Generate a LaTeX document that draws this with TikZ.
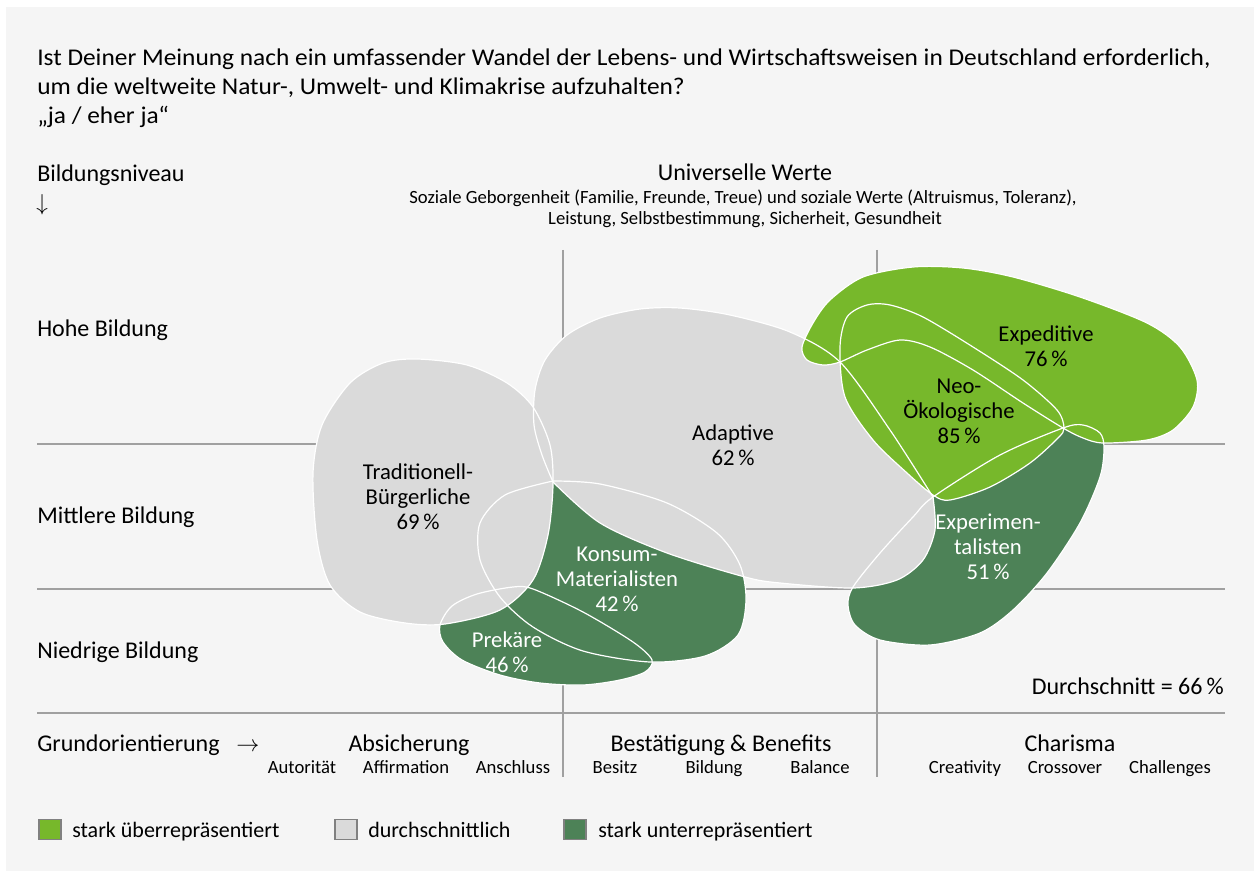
\documentclass[tikz,border=0pt]{standalone}
\usepackage{fontspec}
\setmainfont{Carlito}
\newfontfamily\titlefam{Carlito}[FakeStretch=1.057]
\definecolor{panel}{HTML}{F5F5F5}
\definecolor{lgreen}{HTML}{77B82B}
\definecolor{dgreen}{HTML}{4D8257}
\definecolor{blobgray}{HTML}{DADADA}
\definecolor{gridc}{HTML}{A0A0A0}
\definecolor{legbord}{HTML}{808080}
\newcommand{\blobTrad}{plot[smooth cycle] coordinates{(417,359) (467,365) (507,383) (533,407) (550,445) (553,485) (548,535) (533,580) (500,610) (445,624) (405,623) (360,612) (330,585) (317,540) (313,473) (322,425) (350,383) (383,363)}}
\newcommand{\blobAdap}{plot[smooth] coordinates{(553,482) (542,455) (534,425) (535,390) (545,360) (567,335) (600,318) (640,309) (680,308) (730,315) (790,332) (840,362) (890,430) (933,497)} -- plot[smooth] coordinates{(933,497) (935,530) (923,560) (897,580) (853,588) (780,583) (745,577) (667,553) (600,523) (553,482)} -- cycle}
\newcommand{\blobKons}{plot[smooth] coordinates{(553,481) (600,484) (667,503) (717,533) (740,565) (746,600) (738,635) (705,656) (650,662) (583,651) (533,627) (500,597) (480,560) (480,523) (505,495) (553,481)} -- cycle}
\newcommand{\blobPrek}{plot[smooth cycle] coordinates{(440,625) (452,606) (477,594) (513,587) (533,589) (583,612) (633,642) (652,660) (645,672) (620,680) (583,685) (540,683) (500,675) (462,660) (443,642)}}
\newcommand{\blobExpe}{plot[smooth cycle] coordinates{(933,497) (1000,455) (1063,428) (1083,425) (1100,433) (1104,448) (1100,477) (1080,523) (1047,573) (1013,610) (980,633) (930,645) (880,640) (855,625) (848,605) (853,587) (880,553) (913,517)}}
\newcommand{\blobExpd}{plot[smooth cycle] coordinates{(802,347) (813,323) (830,300) (863,277) (913,267) (963,268) (1013,277) (1080,297) (1147,323) (1180,347) (1197,380) (1193,407) (1173,430) (1147,440) (1103,443) (1083,438) (1063,428) (1023,403) (973,370) (930,347) (900,340) (867,350) (840,362) (823,365) (807,360)}}
\newcommand{\blobNeo}{plot[smooth cycle] coordinates{(867,305) (847,317) (840,347) (845,397) (873,440) (907,473) (933,495) (950,500) (990,487) (1030,463) (1058,438) (1064,428) (1057,410) (1023,380) (973,347) (923,317) (890,305)}}
\begin{document}
\begin{tikzpicture}[x=0.75pt,y=-0.75pt,
  gridline/.style={draw=gridc,line width=1pt},
  outline/.style={draw=white,line width=0.9pt},
  titlefont/.style={font=\titlefam\fontsize{18}{21.5}\selectfont},
  axisfont/.style={font=\fontsize{18}{21}\selectfont},
  legfont/.style={font=\fontsize{16.5}{20}\selectfont},
  smallfont/.style={font=\fontsize{14}{15.75}\selectfont},
  blobfont/.style={font=\fontsize{17}{18.75}\selectfont,align=center,inner sep=0pt},
  txt/.style={inner sep=0pt},
  legbox/.style={draw=legbord,line width=0.9pt,minimum width=16.5pt,minimum height=15.5pt,inner sep=0pt}
]
\fill[white] (0,0) rectangle (1259,873);
\fill[panel] (6,7) rectangle (1254,871);
% grid
\draw[gridline] (37,444) -- (1225,444);
\draw[gridline] (37,589) -- (1225,589);
\draw[gridline] (37,713) -- (1225,713);
\draw[gridline] (563,250) -- (563,777);
\draw[gridline] (877,250) -- (877,777);
% blobs: fills
\fill[dgreen] \blobKons;
\fill[dgreen] \blobPrek;
\fill[dgreen] \blobExpe;
\fill[blobgray] \blobTrad;
\fill[blobgray] \blobAdap;
\fill[lgreen] \blobExpd;
\fill[lgreen] \blobNeo;
% outlines
\draw[outline] \blobKons;
\draw[outline] \blobPrek;
\draw[outline] \blobExpe;
\draw[outline] \blobTrad;
\draw[outline] \blobAdap;
\draw[outline] \blobExpd;
\draw[outline] \blobNeo;
% blob labels
\node[blobfont] (trad) at (418,497) {Traditionell-\\Bürgerliche\\69\,\%};
\node[blobfont] (adap) at (733,445) {Adaptive\\62\,\%};
\node[blobfont,text=white] (kons) at (617,579) {Konsum-\\Materialisten\\42\,\%};
\node[blobfont,text=white] (prek) at (507,652) {Prekäre\\46\,\%};
\node[blobfont] (expd) at (1046,346) {Expeditive\\76\,\%};
\node[blobfont] (neo) at (959,411) {Neo-\\Ökologische\\85\,\%};
\node[blobfont,text=white] (expe) at (988,547) {Experimen-\\talisten\\51\,\%};
% title
\node[titlefont,txt,anchor=base west] (t1) at (37,66) {Ist Deiner Meinung nach ein umfassender Wandel der Lebens- und Wirtschaftsweisen in Deutschland erforderlich,};
\node[titlefont,txt,anchor=base west] (t2) at (37,95) {um die weltweite Natur-, Umwelt- und Klimakrise aufzuhalten?};
\node[titlefont,txt,anchor=base west] (t3) at (37,124) {„ja / eher ja“};
% y axis
\node[axisfont,txt,anchor=base west] (bn) at (37,182) {Bildungsniveau};
\node[axisfont,txt,anchor=base west] (bnarrow) at (36,211) {$\downarrow$};
\node[axisfont,txt,anchor=base west] (hohe) at (37,337) {Hohe Bildung};
\node[axisfont,txt,anchor=base west] (mitt) at (37,523) {Mittlere Bildung};
\node[axisfont,txt,anchor=base west] (nied) at (37,658) {Niedrige Bildung};
% universal values
\node[axisfont,txt,anchor=base] (uw) at (745,181) {Universelle Werte};
\node[smallfont,txt,anchor=base] (uw1) at (743,204) {Soziale Geborgenheit (Familie, Freunde, Treue) und soziale Werte (Altruismus, Toleranz),};
\node[smallfont,txt,anchor=base] (uw2) at (745,225) {Leistung, Selbstbestimmung, Sicherheit, Gesundheit};
\node[axisfont,txt,anchor=base east] (avg) at (1224,694) {Durchschnitt = 66\,\%};
% x axis
\node[axisfont,txt,anchor=base west] (go) at (37,751) {Grundorientierung};
\node[axisfont,txt,anchor=base] (goarrow) at (248,751) {$\rightarrow$};
\node[axisfont,txt,anchor=base] (abs) at (409,751) {Absicherung};
\node[axisfont,txt,anchor=base] (best) at (721,751) {Bestätigung \& Benefits};
\node[axisfont,txt,anchor=base] (char) at (1070,751) {Charisma};
\node[smallfont,txt,anchor=base] (s1) at (302,773) {Autorität};
\node[smallfont,txt,anchor=base] (s2) at (406,773) {Affirmation};
\node[smallfont,txt,anchor=base] (s3) at (513,773) {Anschluss};
\node[smallfont,txt,anchor=base] (s4) at (615,773) {Besitz};
\node[smallfont,txt,anchor=base] (s5) at (714,773) {Bildung};
\node[smallfont,txt,anchor=base] (s6) at (820,773) {Balance};
\node[smallfont,txt,anchor=base] (s7) at (965,773) {Creativity};
\node[smallfont,txt,anchor=base] (s8) at (1065,773) {Crossover};
\node[smallfont,txt,anchor=base] (s9) at (1170,773) {Challenges};
% legend
\node[legbox,fill=lgreen] (l1) at (50,829.5) {};
\node[legfont,txt,anchor=base west] (l1t) at (72,837) {stark überrepräsentiert};
\node[legbox,fill=blobgray] (l2) at (346,829.5) {};
\node[legfont,txt,anchor=base west] (l2t) at (368,837) {durchschnittlich};
\node[legbox,fill=dgreen] (l3) at (575,829.5) {};
\node[legfont,txt,anchor=base west] (l3t) at (598,837) {stark unterrepräsentiert};
\useasboundingbox (0,0) rectangle (1259,873);
\end{tikzpicture}
\end{document}
